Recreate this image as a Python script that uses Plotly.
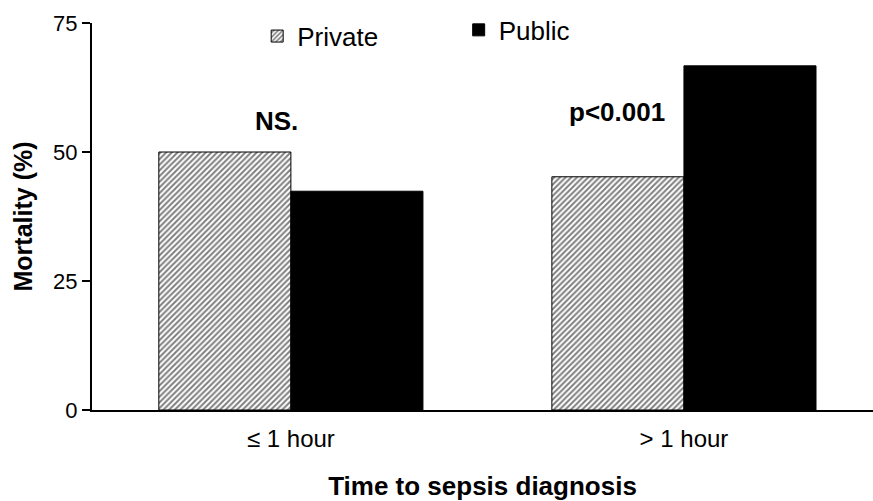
import plotly.graph_objects as go

categories = ["≤ 1 hour", "> 1 hour"]
private_vals = [50.0, 45.2]
public_vals = [42.4, 66.7]
y_ticks = [0, 25, 50, 75]

FONT = "Liberation Sans, Arial, sans-serif"

fig = go.Figure()
fig.add_trace(go.Bar(
    x=categories, y=private_vals, name="Private",
    marker=dict(color="white", line=dict(color="black", width=1),
                pattern=dict(shape="/", size=4, solidity=0.5,
                             fgcolor="black", bgcolor="white", fillmode="overlay")),
    legend="legend", showlegend=True,
))
fig.add_trace(go.Bar(
    x=categories, y=public_vals, name="Public",
    marker=dict(color="black", line=dict(color="black", width=1)),
    legend="legend2", showlegend=True,
))

fig.add_annotation(x=-0.036, y=56.0, xref="x", yref="y", text="<b>NS.</b>",
                   showarrow=False, font=dict(size=26, color="black", family=FONT))
fig.add_annotation(x=0.83, y=57.7, xref="x", yref="y", text="<b>p<0.001</b>",
                   showarrow=False, font=dict(size=26, color="black", family=FONT))

fig.update_layout(
    width=873, height=501,
    margin=dict(l=92, r=0, t=23, b=91),
    paper_bgcolor="white", plot_bgcolor="white",
    font=dict(family=FONT, color="black"),
    showlegend=True,
    barmode="group", bargap=0.328, bargroupgap=0,
    legend=dict(x=0.2115, y=0.966, xanchor="left", yanchor="middle",
                font=dict(size=26, color="black"), bgcolor="rgba(0,0,0,0)"),
    legend2=dict(x=0.4695, y=0.982, xanchor="left", yanchor="middle",
                 font=dict(size=26, color="black"), bgcolor="rgba(0,0,0,0)"),
    xaxis=dict(
        type="category", range=[-0.506, 1.481],
        showline=True, linecolor="black", linewidth=2,
        ticks="", showgrid=False, zeroline=False,
        ticklabelstandoff=6,
        tickfont=dict(size=24, color="black"),
        title=dict(text="<b>Time to sepsis diagnosis</b>", font=dict(size=26, color="black"),
                   standoff=30),
    ),
    yaxis=dict(
        range=[0, 75], tickvals=y_ticks,
        showline=True, linecolor="black", linewidth=2,
        ticks="outside", ticklen=8, tickwidth=2, tickcolor="black",
        showgrid=False, zeroline=False,
        tickfont=dict(size=22, color="black"),
        title=dict(text="<b>Mortality (%)</b>", font=dict(size=25, color="black"),
                   standoff=13),
    ),
)

fig.write_html("out.html", config={"displayModeBar": False},
               post_script="document.body.style.margin='0px';")
